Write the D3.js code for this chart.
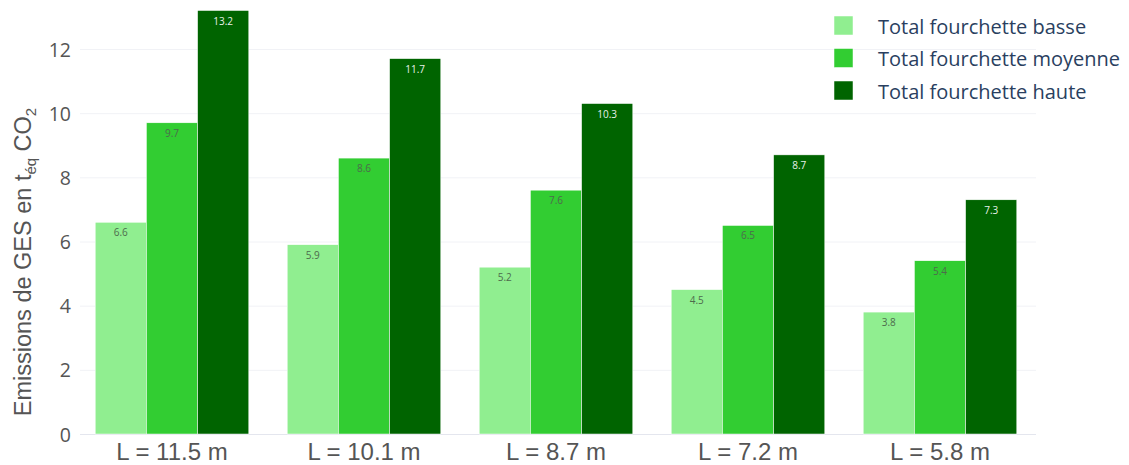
<!DOCTYPE html>
<html>
<head>
<meta charset="utf-8">
<script src="https://cdn.jsdelivr.net/npm/d3@7"></script>
<style>
  body { margin: 0; background: #fff; }
</style>
</head>
<body>
<svg id="chart" width="1129" height="465"></svg>
<script>
const categories = ["L = 11.5 m", "L = 10.1 m", "L = 8.7 m", "L = 7.2 m", "L = 5.8 m"];
const seriesNames = ["Total fourchette basse", "Total fourchette moyenne", "Total fourchette haute"];
const basse = [6.6, 5.9, 5.2, 4.5, 3.8];
const moyenne = [9.7, 8.6, 7.6, 6.5, 5.4];
const haute = [13.2, 11.7, 10.3, 8.7, 7.3];
const yTicks = [0, 2, 4, 6, 8, 10, 12];
const colors = ["#90ee90", "#32cd32", "#006400"];
const textColors = ["#4d6b4d", "#4d6b4d", "#e8f0e8"];

const seriesValues = [basse, moyenne, haute];
const data = categories.map((c, i) => ({
  cat: c,
  vals: seriesValues.map((s, k) => ({ key: k, v: s[i] }))
}));

const margin = {left: 76, right: 93, top: 10, bottom: 31};
const width = 1129, height = 465;
const svg = d3.select("#chart");

const x = d3.scaleBand()
  .domain(categories)
  .range([margin.left, width - margin.right])
  .paddingInner(0.2).paddingOuter(0.1);

const x1 = d3.scaleBand()
  .domain([0, 1, 2])
  .range([0, x.bandwidth()]);

const y = d3.scaleLinear()
  .domain([0, 12])
  .range([434, 49]);

// grid
svg.append("g")
  .selectAll("line")
  .data(yTicks)
  .enter()
  .append("line")
  .attr("x1", 80)
  .attr("x2", width - margin.right)
  .attr("y1", d => y(d) + 0.5)
  .attr("y2", d => y(d) + 0.5)
  .attr("stroke", d => d === 0 ? "#e4e6ee" : "#f1f2f6")
  .attr("stroke-width", 1);

// y ticks
svg.append("g")
  .selectAll("text")
  .data(yTicks)
  .enter()
  .append("text")
  .attr("x", 71)
  .attr("y", d => y(d))
  .attr("text-anchor", "end")
  .attr("dominant-baseline", "central")
  .style("font-family", "'Open Sans', sans-serif")
  .style("font-size", "19.5px")
  .style("fill", "#555")
  .text(d => d);

// y title
const yt = svg.append("text")
  .attr("transform", "translate(31,262) rotate(-90)")
  .attr("text-anchor", "middle")
  .style("font-family", "'Liberation Sans', Arial, sans-serif")
  .style("font-size", "23.5px")
  .style("fill", "#555");
yt.append("tspan").text("Emissions de GES en t");
yt.append("tspan").attr("dy", 5).style("font-size", "15px").text("éq");
yt.append("tspan").attr("dy", -5).text(" CO");
yt.append("tspan").attr("dy", 5).style("font-size", "15px").text("2");

// bars
const groups = svg.append("g")
  .selectAll(".grp")
  .data(data)
  .enter()
  .append("g")
  .attr("class", "grp")
  .attr("transform", d => "translate(" + x(d.cat) + ",0)");

groups.selectAll("rect")
  .data(d => d.vals)
  .enter()
  .append("rect")
  .attr("x", d => x1(d.key))
  .attr("y", d => y(d.v))
  .attr("width", x1.bandwidth())
  .attr("height", d => y(0) - y(d.v))
  .attr("fill", d => colors[d.key])
  .attr("stroke", "#fff")
  .attr("stroke-width", 0.5);

groups.selectAll(".lbl")
  .data(d => d.vals)
  .enter()
  .append("text")
  .attr("class", "lbl")
  .attr("x", d => x1(d.key) + x1.bandwidth() / 2)
  .attr("y", d => y(d.v) + 14)
  .attr("text-anchor", "middle")
  .style("font-family", "'Open Sans', sans-serif")
  .style("font-size", "10px")
  .style("fill", d => textColors[d.key])
  .text(d => d.v.toFixed(1));

// x labels
svg.append("g")
  .selectAll("text")
  .data(categories)
  .enter()
  .append("text")
  .attr("x", d => x(d) + x.bandwidth() / 2)
  .attr("y", 460)
  .attr("text-anchor", "middle")
  .style("font-family", "'Liberation Sans', Arial, sans-serif")
  .style("font-size", "24px")
  .style("fill", "#555")
  .text(d => d);

// legend
const legend = svg.append("g")
  .selectAll(".leg")
  .data(seriesNames)
  .enter()
  .append("g")
  .attr("class", "leg")
  .attr("transform", (d, i) => "translate(834," + (16 + i * 32.5) + ")");

legend.append("rect")
  .attr("width", 19)
  .attr("height", 19)
  .attr("fill", (d, i) => colors[i])
  .attr("stroke", "#fff")
  .attr("stroke-width", 0.5);

legend.append("text")
  .attr("x", 44)
  .attr("y", 10)
  .attr("dominant-baseline", "central")
  .style("font-family", "'Open Sans', sans-serif")
  .style("font-size", "20px")
  .style("fill", "#2a3f5f")
  .text(d => d);
</script>
</body>
</html>
